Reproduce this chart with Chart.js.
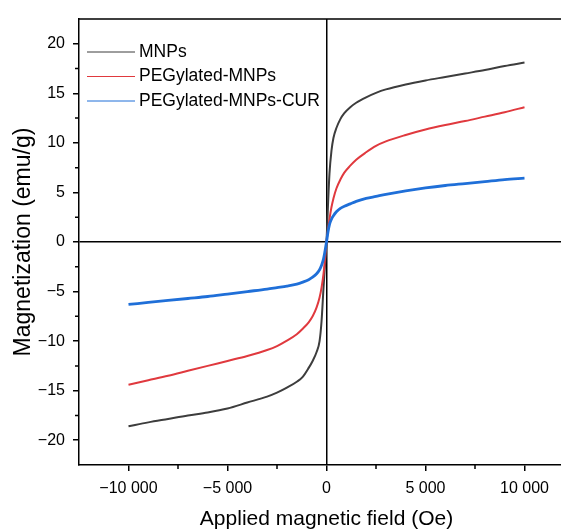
<!DOCTYPE html>
<html>
<head>
<meta charset="utf-8">
<script src="https://cdn.jsdelivr.net/npm/chart.js@4.4.1/dist/chart.umd.min.js"></script>
<style>
  html, body { margin: 0; padding: 0; background: #fff; overflow: hidden; }
  #wrap { width: 600px; height: 532px; }
</style>
</head>
<body>
<div id="wrap"><canvas id="c" width="600" height="532"></canvas></div>
<script>
// applied field (Oe), shared by all three curves
const field = [-10000, -9000, -8000, -7000, -6000, -5000, -4000, -3000, -2500, -2000, -1500, -1200, -900, -700,
  -500, -350, -250, -150, -75, 0, 75, 150, 250, 350, 500, 700, 900, 1200, 1500, 2000, 2500, 3000,
  4000, 5000, 6000, 7000, 8000, 9000, 10000];

// magnetization (emu/g)
const mnps = [-18.6, -18.2, -17.85, -17.5, -17.2, -16.8, -16.2, -15.6, -15.2, -14.7, -14.1, -13.6, -12.7, -12.0,
  -11.1, -10.0, -8.0, -4.6, -2.3, 0, 3.7, 6.9, 9.2, 10.5, 11.5, 12.4, 13.0, 13.6, 14.05, 14.6, 15.05, 15.4,
  15.9, 16.3, 16.65, 17.0, 17.35, 17.75, 18.1];
const pegMnps = [-14.4, -13.95, -13.5, -13.0, -12.5, -12.0, -11.5, -10.9, -10.5, -9.95, -9.3, -8.75, -8.1, -7.5,
  -6.6, -5.6, -4.6, -3.2, -1.7, 0, 1.2, 2.3, 3.5, 4.4, 5.4, 6.3, 7.0, 7.7, 8.3, 9.05, 9.7, 10.15,
  10.8, 11.35, 11.8, 12.2, 12.65, 13.1, 13.6];
const pegMnpsCur = [-6.3, -6.1, -5.9, -5.7, -5.5, -5.25, -5.0, -4.75, -4.6, -4.45, -4.25, -4.05, -3.8, -3.55,
  -3.2, -2.8, -2.35, -1.7, -0.9, 0, 1.0, 1.75, 2.3, 2.65, 3.05, 3.4, 3.6, 3.85, 4.1, 4.4, 4.6, 4.8,
  5.15, 5.45, 5.7, 5.9, 6.1, 6.3, 6.45];

const seriesNames = ['MNPs', 'PEGylated-MNPs', 'PEGylated-MNPs-CUR'];
const seriesColors = ['#3d3d3d', '#e0393e', '#1f6fd8'];

const xTicks = [-10000, -5000, 0, 5000, 10000];
const xMinor = [-7500, -2500, 2500, 7500];
const yTicks = [-20, -15, -10, -5, 0, 5, 10, 15, 20];
const yMinor = [-17.5, -12.5, -7.5, -2.5, 2.5, 7.5, 12.5, 17.5];

const FONT = "'Liberation Sans', Arial, sans-serif";

function fmt(v) {
  const s = Math.abs(v).toString().replace(/\B(?=(\d{3})+(?!\d))/g, ' ');
  return (v < 0 ? '\u2212' : '') + s;
}

const pts = arr => field.map((x, i) => ({ x, y: arr[i] }));

// minor ticks, top frame line and the in-plot legend
const extras = {
  id: 'extras',
  afterDraw(chart) {
    const { ctx, chartArea: a, scales: { x, y } } = chart;
    ctx.save();
    ctx.strokeStyle = '#000';
    ctx.lineWidth = 1.5;
    ctx.beginPath();
    xMinor.forEach(v => { const px = x.getPixelForValue(v); ctx.moveTo(px, a.bottom); ctx.lineTo(px, a.bottom + 4); });
    yMinor.forEach(v => { const py = y.getPixelForValue(v); ctx.moveTo(a.left - 4, py); ctx.lineTo(a.left, py); });
    ctx.moveTo(a.left, a.top);
    ctx.lineTo(chart.width, a.top);
    ctx.stroke();

    ctx.font = '17.5px ' + FONT;
    ctx.textBaseline = 'middle';
    ctx.fillStyle = '#000';
    seriesNames.forEach((n, i) => {
      const ly = a.top + 33 + i * 24.5;
      ctx.strokeStyle = seriesColors[i];
      ctx.lineWidth = 1;
      ctx.beginPath();
      ctx.moveTo(a.left + 8, ly);
      ctx.lineTo(a.left + 56, ly);
      ctx.stroke();
      ctx.fillText(n, a.left + 60, ly);
    });
    ctx.restore();
  }
};

new Chart(document.getElementById('c'), {
  type: 'line',
  data: {
    datasets: [
      { label: seriesNames[0], data: pts(mnps), borderColor: seriesColors[0], borderWidth: 2, order: 2 },
      { label: seriesNames[1], data: pts(pegMnps), borderColor: seriesColors[1], borderWidth: 2, order: 1 },
      { label: seriesNames[2], data: pts(pegMnpsCur), borderColor: seriesColors[2], borderWidth: 2.8, order: 0 },
    ].map(d => ({ ...d, pointRadius: 0, fill: false, cubicInterpolationMode: 'monotone' })),
  },
  options: {
    responsive: false,
    animation: false,
    layout: { padding: { top: 19, right: 26, left: 0, bottom: 0 } },
    plugins: { legend: { display: false }, tooltip: { enabled: false } },
    scales: {
      x: {
        type: 'linear',
        min: -12500,
        max: 12500,
        afterBuildTicks: s => { s.ticks = xTicks.map(v => ({ value: v })); },
        afterFit: s => { s.height = 67; },
        border: { display: true, color: '#000', width: 1.5 },
        grid: {
          drawOnChartArea: true,
          color: c => (c.tick && c.tick.value === 0 ? '#000' : 'rgba(0,0,0,0)'),
          lineWidth: 1.5,
          tickColor: '#000',
          tickLength: 6,
        },
        ticks: { color: '#000', padding: 8, maxRotation: 0, font: { family: FONT, size: 16 }, callback: v => fmt(v) },
        title: { display: true, text: 'Applied magnetic field (Oe)', color: '#000', font: { family: FONT, size: 21 }, padding: { top: 0, bottom: 0 } },
      },
      y: {
        min: -22.5,
        max: 22.5,
        afterBuildTicks: s => { s.ticks = yTicks.map(v => ({ value: v })); },
        afterFit: s => { s.width = 79; },
        border: { display: true, color: '#000', width: 1.5 },
        grid: {
          drawOnChartArea: true,
          color: c => (c.tick && c.tick.value === 0 ? '#000' : 'rgba(0,0,0,0)'),
          lineWidth: 1.5,
          tickColor: '#000',
          tickLength: 6,
        },
        ticks: { color: '#000', padding: 8, font: { family: FONT, size: 16 }, callback: v => fmt(v) },
        title: { display: true, text: 'Magnetization (emu/g)', color: '#000', font: { family: FONT, size: 23 }, padding: { top: 10, bottom: 0 } },
      },
    },
  },
  plugins: [extras],
});
</script>
</body>
</html>
